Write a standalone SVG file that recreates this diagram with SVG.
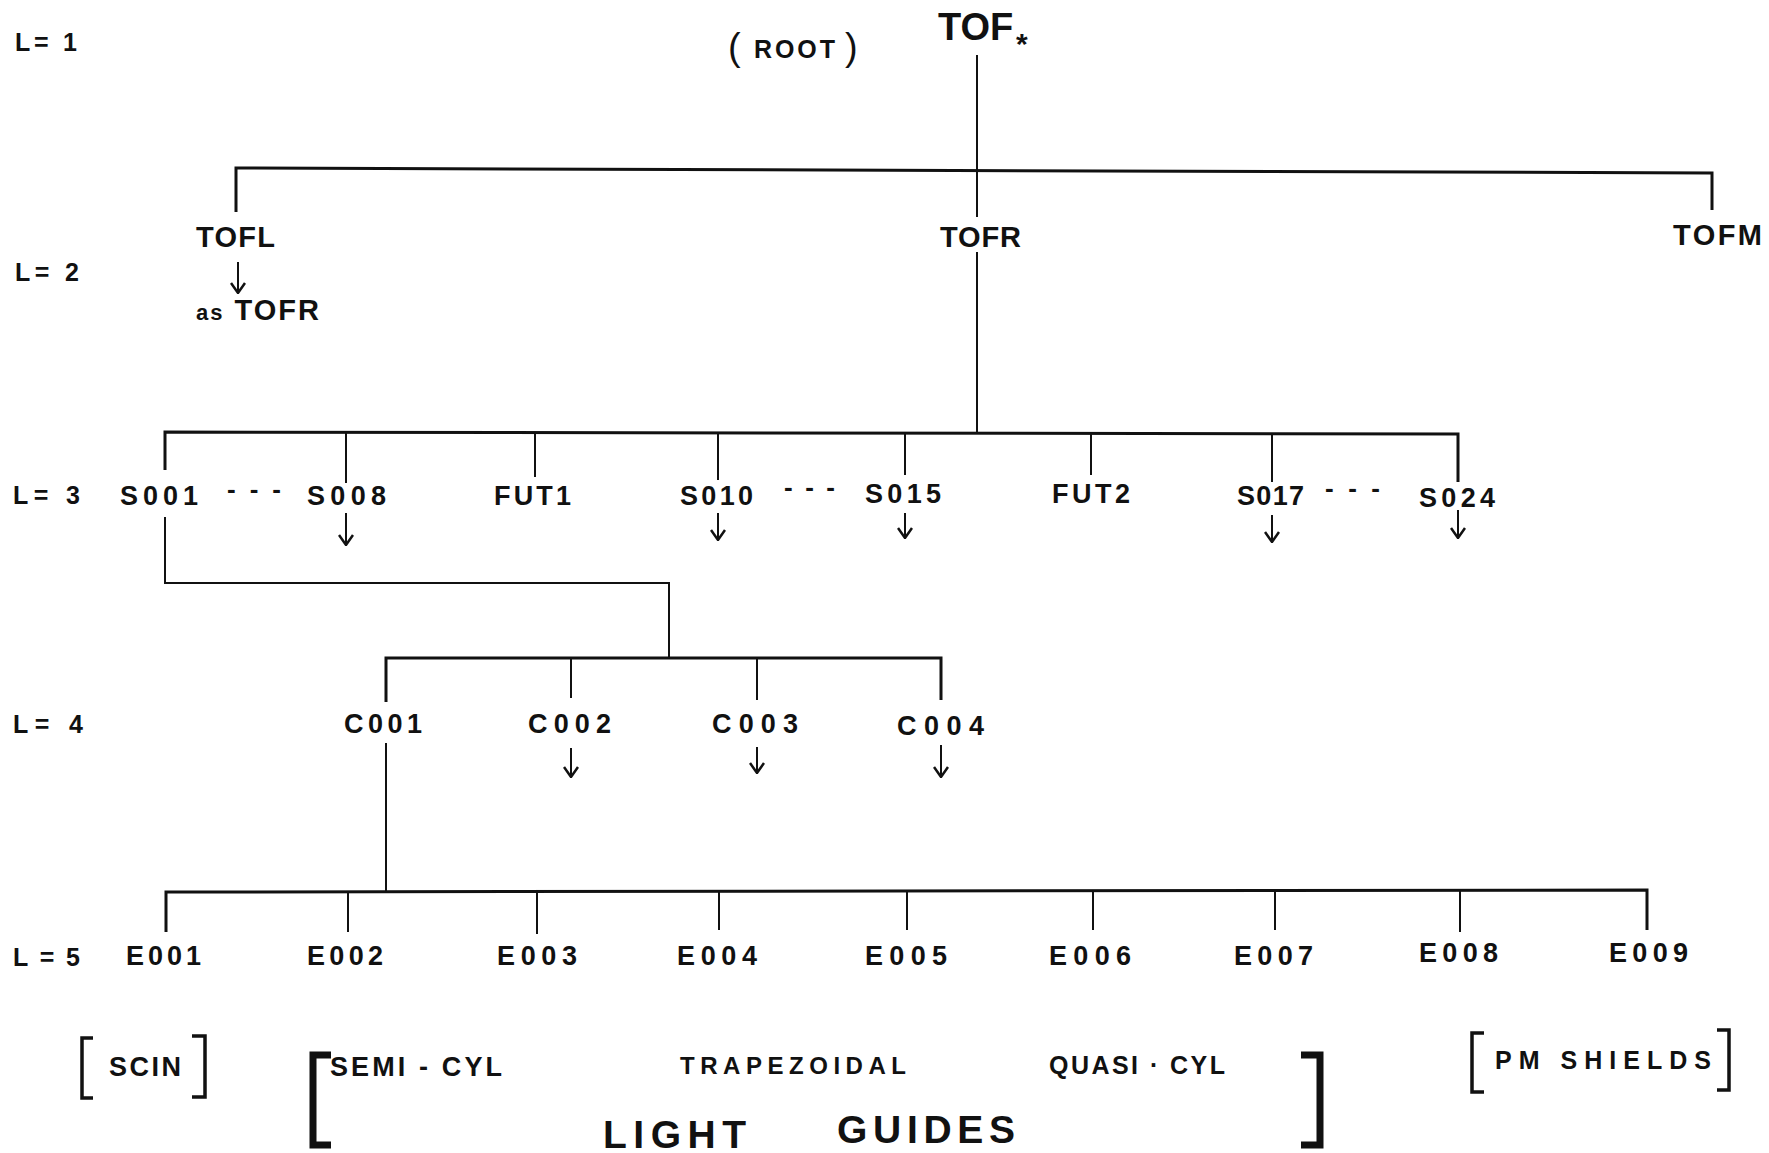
<svg xmlns="http://www.w3.org/2000/svg" width="1769" height="1153" viewBox="0 0 1769 1153">
<style>
text{font-family:"Liberation Sans",Arial,sans-serif;font-weight:bold;fill:#111;}
.lv{font-size:25px;}
.n{font-size:27px;}
.t{font-size:29px;}
.dash{font-size:26px;font-weight:bold;}
.b{font-size:25px;}
.big{font-size:39px;}
.ln{fill:none;stroke:#111;stroke-width:2;}
.bar{fill:none;stroke:#111;stroke-width:3;}
.br{fill:none;stroke:#111;stroke-width:3.5;}
.brb{fill:none;stroke:#111;stroke-width:7;}
.ar{fill:none;stroke:#111;stroke-width:2;marker-end:url(#ah);}
</style>
<defs>
<marker id="ah" viewBox="0 0 12 16" refX="11" refY="8" markerWidth="12" markerHeight="16" markerUnits="userSpaceOnUse" orient="auto">
<path d="M1,1 L11,8 L1,15" fill="none" stroke="#111" stroke-width="2.5"/>
</marker>
</defs>
<rect width="1769" height="1153" fill="#fff"/>

<g id="levels">
<text class="lv" x="15" y="51" textLength="62" lengthAdjust="spacing">L= 1</text>
<text class="lv" x="15" y="281" textLength="64" lengthAdjust="spacing">L= 2</text>
<text class="lv" x="13" y="504" textLength="67" lengthAdjust="spacing">L= 3</text>
<text class="lv" x="13" y="733" textLength="70" lengthAdjust="spacing">L= 4</text>
<text class="lv" x="13" y="966" textLength="67" lengthAdjust="spacing">L = 5</text>
</g>

<g id="connectors">
<path class="ln" d="M977 55 V217"/>
<path class="bar" d="M236 212 V168 L1712 173 V210"/>
<path class="ln" d="M977 252 V433"/>
<path class="bar" d="M165 470 V432 L1458 434 V482"/>
<path class="ln" d="M346 432 V483 M535 432 V477 M718 433 V480 M905 433 V475 M1091 433 V475 M1272 434 V482"/>
<path class="ln" d="M165 517 V583 H669 V658"/>
<path class="bar" d="M386 702 V658 H941 V700"/>
<path class="ln" d="M571 658 V698 M757 658 V700"/>
<path class="ln" d="M386 743 V892"/>
<path class="bar" d="M166 932 V892 L1647 890 V930"/>
<path class="ln" d="M348 892 V932 M537 892 V934 M719 892 V930 M907 891 V930 M1093 891 V930 M1275 891 V930 M1460 891 V932"/>
<path class="ar" d="M238 262 V293"/>
<path class="ar" d="M346 513 V545"/>
<path class="ar" d="M718 513 V540"/>
<path class="ar" d="M905 513 V538"/>
<path class="ar" d="M1272 515 V542"/>
<path class="ar" d="M1458 510 V538"/>
<path class="ar" d="M571 748 V777"/>
<path class="ar" d="M757 747 V773"/>
<path class="ar" d="M941 745 V777"/>
</g>

<g id="root">
<text x="728" y="60" style="font-size:38px;font-weight:normal">(</text>
<text x="754" y="58" style="font-size:25px" textLength="81" lengthAdjust="spacing">ROOT</text>
<text x="845" y="60" style="font-size:38px;font-weight:normal">)</text>
<text x="938" y="40" style="font-size:38px">TOF</text>
<text x="1016" y="54" style="font-size:30px">*</text>
</g>

<g id="TOFL"><text class="t" x="196" y="247" textLength="79" lengthAdjust="spacing">TOFL</text></g>
<g id="TOFL-as"><text class="t" x="196" y="320" textLength="123" lengthAdjust="spacing"><tspan style="font-size:22px">as</tspan> TOFR</text></g>
<g id="TOFR"><text class="t" x="940" y="247" textLength="81" lengthAdjust="spacing">TOFR</text></g>
<g id="TOFM"><text class="t" x="1673" y="245" textLength="89" lengthAdjust="spacing">TOFM</text></g>

<g id="S001"><text class="n" x="120" y="505" textLength="78" lengthAdjust="spacing">S001</text></g>
<g id="dash1"><text class="dash" x="227" y="498" textLength="54" lengthAdjust="spacing">- - -</text></g>
<g id="S008"><text class="n" x="307" y="505" textLength="79" lengthAdjust="spacing">S008</text></g>
<g id="FUT1"><text class="n" x="494" y="505" textLength="77" lengthAdjust="spacing">FUT1</text></g>
<g id="S010"><text class="n" x="680" y="505" textLength="73" lengthAdjust="spacing">S010</text></g>
<g id="dash2"><text class="dash" x="784" y="496" textLength="51" lengthAdjust="spacing">- - -</text></g>
<g id="S015"><text class="n" x="865" y="503" textLength="76" lengthAdjust="spacing">S015</text></g>
<g id="FUT2"><text class="n" x="1052" y="503" textLength="78" lengthAdjust="spacing">FUT2</text></g>
<g id="S017"><text class="n" x="1237" y="505" textLength="67" lengthAdjust="spacing">S017</text></g>
<g id="dash3"><text class="dash" x="1325" y="497" textLength="55" lengthAdjust="spacing">- - -</text></g>
<g id="S024"><text class="n" x="1419" y="507" textLength="76" lengthAdjust="spacing">S024</text></g>

<g id="C001"><text class="n" x="344" y="733" textLength="78" lengthAdjust="spacing">C001</text></g>
<g id="C002"><text class="n" x="528" y="733" textLength="83" lengthAdjust="spacing">C002</text></g>
<g id="C003"><text class="n" x="712" y="733" textLength="86" lengthAdjust="spacing">C003</text></g>
<g id="C004"><text class="n" x="897" y="735" textLength="87" lengthAdjust="spacing">C004</text></g>

<g id="E001"><text class="n" x="126" y="965" textLength="75" lengthAdjust="spacing">E001</text></g>
<g id="E002"><text class="n" x="307" y="965" textLength="76" lengthAdjust="spacing">E002</text></g>
<g id="E003"><text class="n" x="497" y="965" textLength="80" lengthAdjust="spacing">E003</text></g>
<g id="E004"><text class="n" x="677" y="965" textLength="80" lengthAdjust="spacing">E004</text></g>
<g id="E005"><text class="n" x="865" y="965" textLength="82" lengthAdjust="spacing">E005</text></g>
<g id="E006"><text class="n" x="1049" y="965" textLength="82" lengthAdjust="spacing">E006</text></g>
<g id="E007"><text class="n" x="1234" y="965" textLength="79" lengthAdjust="spacing">E007</text></g>
<g id="E008"><text class="n" x="1419" y="962" textLength="79" lengthAdjust="spacing">E008</text></g>
<g id="E009"><text class="n" x="1609" y="962" textLength="79" lengthAdjust="spacing">E009</text></g>

<g id="scin">
<path class="br" d="M93 1038 H82 V1098 H93"/>
<text class="b" x="109" y="1076" textLength="72" lengthAdjust="spacing" style="font-size:27px">SCIN</text>
<path class="br" d="M192 1036 H205 V1097 H192"/>
</g>
<g id="light-guides">
<path class="brb" d="M331 1055 H313 V1145 H331"/>
<text class="b" x="330" y="1076" textLength="172" lengthAdjust="spacing" style="font-size:27px">SEMI - CYL</text>
<text class="b" x="680" y="1074" textLength="226" lengthAdjust="spacing" style="font-size:24px">TRAPEZOIDAL</text>
<text class="b" x="1049" y="1074" textLength="176" lengthAdjust="spacing">QUASI · CYL</text>
<path class="brb" d="M1301 1055 H1320 V1145 H1301"/>
<text class="big" x="603" y="1148" textLength="143" lengthAdjust="spacing">LIGHT</text>
<text class="big" x="837" y="1143" textLength="178" lengthAdjust="spacing">GUIDES</text>
</g>
<g id="pm-shields">
<path class="br" d="M1484 1033 H1472 V1092 H1484"/>
<text class="b" x="1495" y="1069" textLength="216" lengthAdjust="spacing">PM  SHIELDS</text>
<path class="br" d="M1717 1030 H1729 V1090 H1717"/>
</g>
</svg>
